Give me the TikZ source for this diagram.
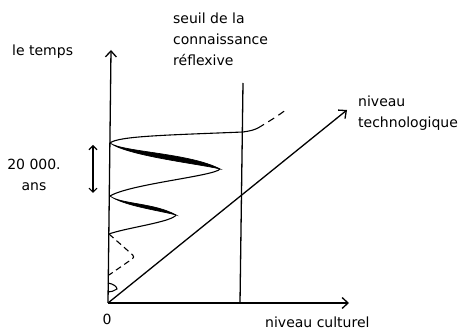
\documentclass[tikz,border=0pt]{standalone}
\usepackage{fontspec}
\setmainfont{DejaVu Sans}
\usetikzlibrary{calc, positioning}
\usetikzlibrary{arrows.meta}

\begin{document}
\begin{tikzpicture}[x=1pt, y=-1pt]
\tikzset{axe/.style={line width=1.3pt, -{Straight Barb[length=6pt, width=11pt]}},
  lbl/.style={font=\fontsize{14}{21}\selectfont, inner sep=0pt, align=left},
  courbe/.style={line width=1.1pt},
  lobe/.style={fill=black, line width=0.7pt}}
\useasboundingbox (0,0) rectangle (472,331);

\coordinate (O) at (108,303);
\coordinate (T) at (111,50);
\coordinate (K) at (349,303);
\coordinate (N) at (347,110);
\coordinate (S0) at (240,303);
\coordinate (S1) at (243,83);

% axes et seuil
\draw[axe] (O) -- (T);
\draw[axe] (O) -- (K);
\draw[axe] (O) -- (N);
\draw[line width=1.3pt] (S0) -- (S1);

% points de la courbe
\coordinate (A1) at (110,143);
\coordinate (P1) at (220,169);
\coordinate (A2) at (110,196);
\coordinate (P2) at (176,215);
\coordinate (A3) at (109,234);
\coordinate (P3) at (135,257);
\coordinate (A4) at (109,275);
\coordinate (a5) at (108,283);
\coordinate (p5) at (117,289);
\coordinate (a6) at (108,292);
\coordinate (X) at (243,132);
\coordinate (Y) at (258,128);
\coordinate (Z) at (287,109);

\draw[courbe] (A1) .. controls (118,136) and (170,135) .. (X)
  .. controls (250,131) and (254,130) .. (Y);
\draw[courbe, dashed, dash pattern=on 7pt off 5pt] (Y) .. controls (268,122) and (278,116) .. (Z);

\filldraw[lobe] (A1) .. controls (122,152) and (190,153) .. (P1)
  .. controls (200,164) and (128,156) .. (A1);
\draw[courbe] (P1) .. controls (215,176) and (130,184) .. (A2);

\filldraw[lobe] (A2) .. controls (120,204) and (155,203) .. (P2)
  .. controls (162,211) and (124,206) .. (A2);
\draw[courbe] (P2) .. controls (172,222) and (125,228) .. (A3);

\draw[courbe, dashed, dash pattern=on 6pt off 4pt, rounded corners=3pt] (A3) -- (P3) -- (A4);
\draw[courbe] (a5) .. controls (114,284) and (117,287) .. (p5)
  .. controls (114,291) and (111,292) .. (a6);

% periode
\coordinate (D0) at (93,145);
\coordinate (D1) at (93,193);
\draw[line width=1.1pt, {Straight Barb[length=4pt, width=8pt]}-{Straight Barb[length=4pt, width=8pt]}] (D0) -- (D1);

\node[lbl, anchor=base west] (temps) at (12,56) {le temps};
\node[lbl, anchor=base west] (seuil) at (173,66) {seuil de la\\connaissance\\réflexive};
\node[lbl, anchor=base west] (techno) at (358,128) {niveau\\technologique};
\node[lbl, align=center, anchor=base] (duree) at (34,191) {20 000.\\ans};
\node[lbl, anchor=base] (zero) at (107,325) {0};
\node[lbl, anchor=base west] (culture) at (265,328) {niveau culturel};
\end{tikzpicture}
\end{document}
